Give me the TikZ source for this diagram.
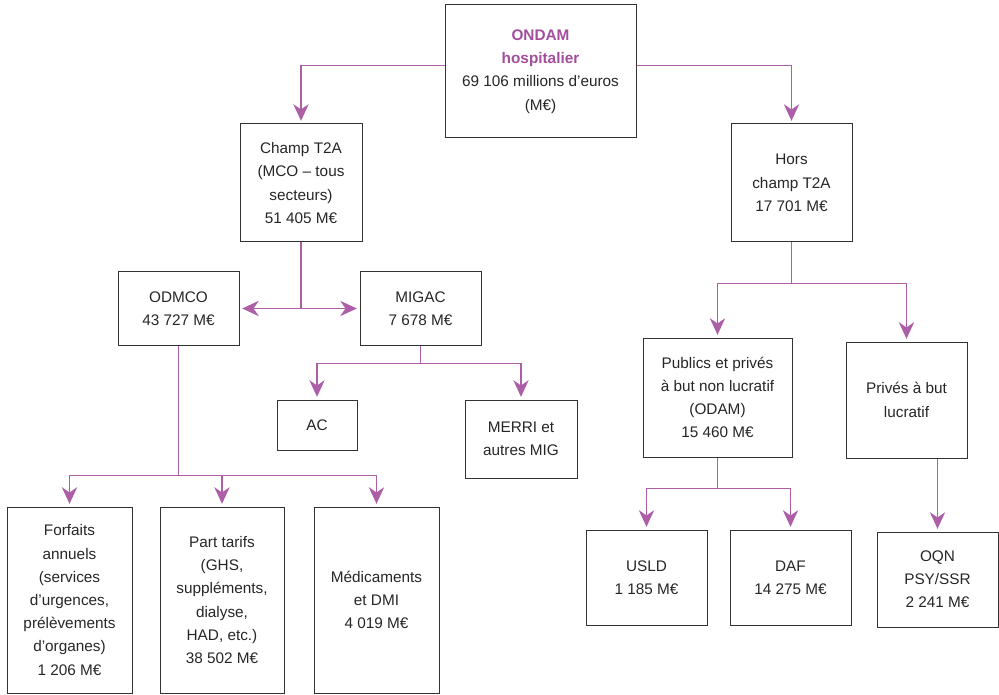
\documentclass[tikz,border=0pt]{standalone}
\usepackage{fontspec}
\setmainfont{Liberation Sans}
\usetikzlibrary{arrows.meta}

\definecolor{ondam purple}{RGB}{163,77,156}
\colorlet{link line}{ondam purple!90}
\colorlet{box edge}{black!80}
\colorlet{box text}{black!85}
\tikzset{box/.style={draw=box edge, line width=0.75pt, inner sep=0pt, align=center,
        text=box text, font=\fontsize{11.5}{17.4}\selectfont},
    dims/.style 2 args={minimum width=#1*0.75pt, minimum height=#2*0.75pt},
    link/.style={draw=link line, line width=1pt},
    arrow/.style={link, -{Stealth[length=12.5pt, width=11.5pt, inset=4pt]}, shorten >=2pt}}

\begin{document}
\begin{tikzpicture}[x=0.75pt, y=-0.75pt]
    \useasboundingbox (0,0) rectangle (999,695);
    % top
    \node[box, dims={191}{133}] (ondam) at (540.5,71.5)
        {\textcolor{ondam purple}{\textbf{ONDAM}}\\\textcolor{ondam purple}{\textbf{hospitalier}}\\69 106 millions d’euros\\(M€)};
    \node[box, dims={122}{118}] (champ) at (301,183) {Champ T2A\\(MCO – tous\\secteurs)\\51 405 M€};
    \node[box, dims={121}{118}] (hors) at (791.5,183) {Hors\\champ T2A\\17 701 M€};
    % champ T2A side
    \node[box, dims={121}{73}] (odmco) at (178.5,308.5) {ODMCO\\43 727 M€};
    \node[box, dims={121}{73}] (migac) at (420.5,308.5) {MIGAC\\7 678 M€};
    \node[box, dims={80}{50}] (ac) at (317,425) {AC};
    \node[box, dims={112}{78}] (merri) at (521,439) {MERRI et\\autres MIG};
    \node[box, dims={125}{186}] (forfaits) at (69.5,600)
        {Forfaits\\annuels\\(services\\d’urgences,\\prélèvements\\d’organes)\\1 206 M€};
    \node[box, dims={124}{186}] (tarifs) at (222,600)
        {Part tarifs\\(GHS,\\suppléments,\\dialyse,\\HAD, etc.)\\38 502 M€};
    \node[box, dims={125}{186}] (medic) at (376.5,600) {Médicaments\\et DMI\\4 019 M€};
    % hors champ side
    \node[box, dims={149}{119}] (publics) at (717.5,397.5)
        {Publics et privés\\à but non lucratif\\(ODAM)\\15 460 M€};
    \node[box, dims={121}{116}] (prives) at (906.5,400) {Privés à but\\lucratif};
    \node[box, dims={121}{95}] (usld) at (646.5,577.5) {USLD\\1 185 M€};
    \node[box, dims={121}{95}] (daf) at (790.5,577.5) {DAF\\14 275 M€};
    \node[box, dims={121}{95}] (oqn) at (937.5,579.5) {OQN\\PSY/SSR\\2 241 M€};

    % connectors
    \draw[arrow] ([yshift=4.5pt]ondam.west) -| (champ.north);
    \draw[arrow] ([yshift=4.5pt]ondam.east) -| (hors.north);

    \coordinate (jchamp) at (champ.south |- odmco.east);
    \draw[link] (champ.south) -- (jchamp);
    \draw[arrow] (jchamp) -- (odmco.east);
    \draw[arrow] (jchamp) -- (migac.west);

    \coordinate (jmigac) at ([yshift=-13.5pt]migac.south);
    \draw[link] (migac.south) -- (jmigac);
    \draw[arrow] (jmigac) -| (ac.north);
    \draw[arrow] (jmigac) -| (merri.north);

    \coordinate (jodmco) at ([yshift=-97.5pt]odmco.south);
    \draw[link] (odmco.south) -- (jodmco);
    \draw[arrow] (jodmco) -| (forfaits.north);
    \draw[arrow] (jodmco) -| (tarifs.north);
    \draw[arrow] (jodmco) -| (medic.north);

    \coordinate (jhors) at ([yshift=-30.75pt]hors.south);
    \draw[link] (hors.south) -- (jhors);
    \draw[arrow] (jhors) -| (publics.north);
    \draw[arrow] (jhors) -| (prives.north);

    \coordinate (jpublics) at ([yshift=-23.25pt]publics.south);
    \draw[link] (publics.south) -- (jpublics);
    \draw[arrow] (jpublics) -| (usld.north);
    \draw[arrow] (jpublics) -| (daf.north);

    \draw[arrow] (oqn.north |- prives.south) -- (oqn.north);
\end{tikzpicture}
\end{document}
